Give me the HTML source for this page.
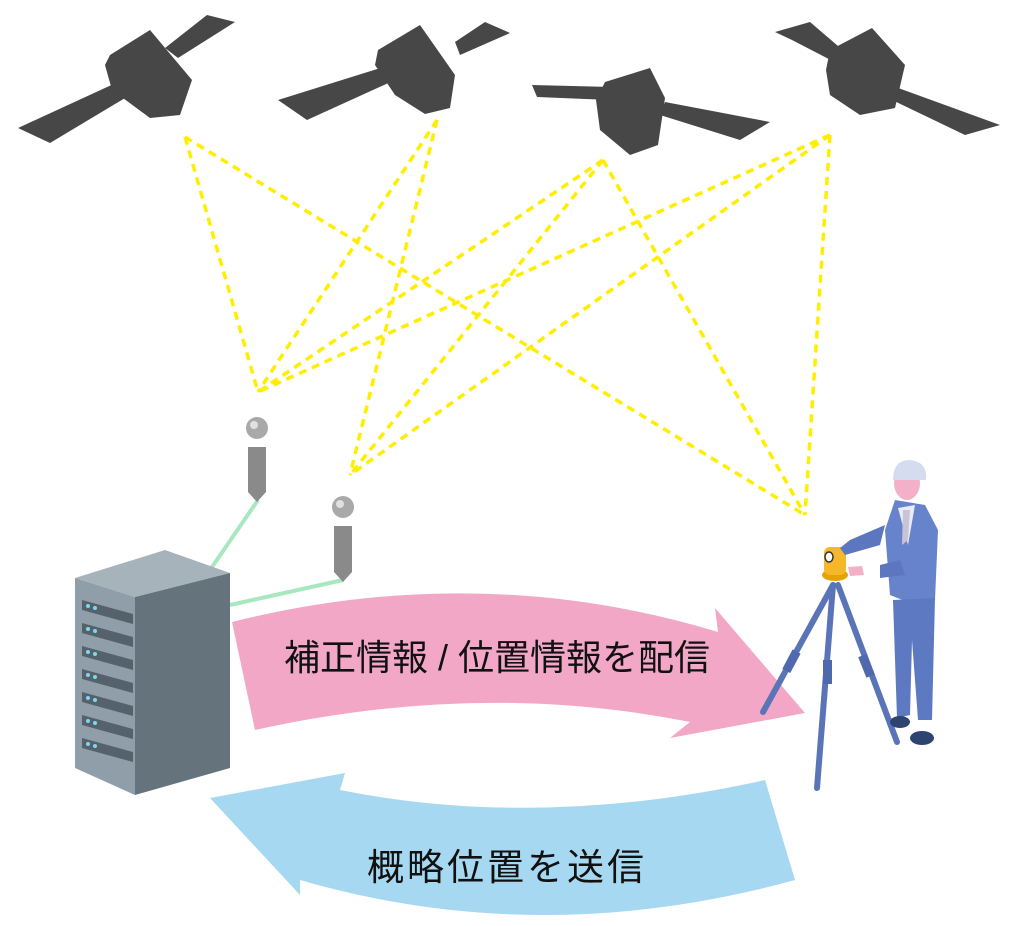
<!DOCTYPE html>
<html><head><meta charset="utf-8"><style>
html,body{margin:0;padding:0;background:#fff;}
svg{display:block;}
text{font-family:"Liberation Sans","Noto Sans CJK JP",sans-serif;}
</style></head><body>
<svg width="1024" height="926" viewBox="0 0 1024 926" xmlns="http://www.w3.org/2000/svg">
<g stroke="#ffee00" stroke-width="3.5" stroke-dasharray="8,6" fill="none">
<line x1="185" y1="137" x2="258" y2="392"/>
<line x1="185" y1="137" x2="805" y2="515"/>
<line x1="437" y1="120" x2="258" y2="392"/>
<line x1="437" y1="120" x2="350" y2="475"/>
<line x1="603" y1="160" x2="258" y2="392"/>
<line x1="603" y1="160" x2="350" y2="475"/>
<line x1="603" y1="160" x2="805" y2="515"/>
<line x1="830" y1="135" x2="258" y2="392"/>
<line x1="830" y1="135" x2="350" y2="475"/>
<line x1="830" y1="135" x2="805" y2="515"/>
</g>
<g fill="#474747">
<polygon points="18,128 50,143 130,95 118,82"/>
<polygon points="165,48 178,58 235,22 207,15"/>
<polygon points="110,55 150,30 192,80 180,115 150,118 112,90 105,65"/>
<polygon points="278,100 307,120 395,80 390,65"/>
<polygon points="455,42 460,55 510,33 485,22"/>
<polygon points="378,50 420,25 455,75 450,108 425,114 395,95 375,65"/>
<polygon points="532,85 537,97 610,100 612,87"/>
<polygon points="665,102 660,115 740,140 770,122"/>
<polygon points="605,82 650,68 665,98 658,145 630,155 600,130 596,100"/>
<polygon points="775,32 792,40 850,70 852,58 810,22"/>
<polygon points="890,85 888,98 965,135 1000,125"/>
<polygon points="830,50 872,28 905,65 895,108 860,115 830,95 826,70"/>
</g>
<g stroke="#a8e8c0" stroke-width="4" fill="none">
<line x1="258" y1="500" x2="210" y2="570"/>
<line x1="343" y1="580" x2="230" y2="605"/>
</g>
<circle cx="257" cy="428" r="11" fill="#a9a9a9"/><circle cx="254" cy="425" r="4" fill="#e0e0e0"/>
<polygon points="248,447 266,447 266,492 257,502 248,492" fill="#8a8a8a"/>
<circle cx="343" cy="507" r="11" fill="#a9a9a9"/><circle cx="340" cy="504" r="4" fill="#e0e0e0"/>
<polygon points="334,526 352,526 352,572 343,582 334,572" fill="#8a8a8a"/>
<polygon points="75,578 165,550 230,573 135,597" fill="#a7b3bb"/>
<polygon points="135,597 230,573 230,768 135,795" fill="#65737c"/>
<polygon points="75,578 135,597 135,795 75,768" fill="#8f9ea8"/>
<g fill="#55626b">
<polygon points="82,600 133,614 133,624 82,610"/>
<polygon points="82,623 133,637 133,647 82,633"/>
<polygon points="82,646 133,660 133,670 82,656"/>
<polygon points="82,669 133,683 133,693 82,679"/>
<polygon points="82,692 133,706 133,716 82,702"/>
<polygon points="82,715 133,729 133,739 82,725"/>
<polygon points="82,738 133,752 133,762 82,748"/>
</g>
<g fill="#7fd6f0">
<circle cx="88" cy="606" r="2"/><circle cx="95" cy="608" r="2"/>
<circle cx="88" cy="629" r="2"/><circle cx="95" cy="631" r="2"/>
<circle cx="88" cy="652" r="2"/><circle cx="95" cy="654" r="2"/>
<circle cx="88" cy="675" r="2"/><circle cx="95" cy="677" r="2"/>
<circle cx="88" cy="698" r="2"/><circle cx="95" cy="700" r="2"/>
<circle cx="88" cy="721" r="2"/><circle cx="95" cy="723" r="2"/>
<circle cx="88" cy="744" r="2"/><circle cx="95" cy="746" r="2"/>
</g>
<path d="M232,622 Q480,560 718,632 L715,608 L805,713 L670,738 L690,722 Q480,680 255,730 Z" fill="#f2a7c6"/>
<text x="497" y="670" font-size="36" text-anchor="middle" fill="#111">補正情報 / 位置情報を配信</text>
<path d="M210,798 L345,773 L340,790 Q540,830 765,780 L795,880 Q540,950 300,880 L300,895 Z" fill="#a6d8f2"/>
<text x="507" y="880" font-size="37" letter-spacing="3" text-anchor="middle" fill="#111">概略位置を送信</text>
<g stroke="#5a74b8" stroke-width="6" stroke-linecap="round" fill="none">
<line x1="833" y1="585" x2="763" y2="712"/>
<line x1="833" y1="585" x2="817" y2="788"/>
<line x1="838" y1="585" x2="897" y2="742"/>
</g>
<g fill="#5069ad">
<rect x="787" y="650" width="9" height="22" transform="rotate(28 791 661)"/>
<rect x="823" y="660" width="9" height="24"/>
<rect x="862" y="655" width="9" height="22" transform="rotate(-22 866 666)"/>
</g>
<ellipse cx="835" cy="575" rx="13" ry="6" fill="#e5a200"/>
<rect x="824" y="547" width="22" height="28" rx="6" fill="#f5b82a"/>
<ellipse cx="829" cy="557" rx="4" ry="5" fill="#fff" stroke="#333" stroke-width="1.5"/>
<polygon points="895,500 925,505 938,530 935,600 915,605 890,595 885,530" fill="#6683cc"/>
<polygon points="898,508 915,505 908,545" fill="#e9ebf5"/>
<polygon points="903,510 910,510 908,540 902,545" fill="#c8c4d6"/>
<polygon points="885,525 850,540 840,548 845,555 880,545" fill="#5c76c0"/>
<polygon points="880,565 900,560 905,575 880,578" fill="#5c76c0"/>
<polygon points="848,567 862,566 864,575 850,576" fill="#f3b0c8"/>
<polygon points="893,600 935,598 932,720 918,720 912,640 910,715 897,718" fill="#5d79c2"/>
<ellipse cx="900" cy="722" rx="10" ry="6" fill="#2e4470"/>
<ellipse cx="922" cy="738" rx="12" ry="7" fill="#2e4470"/>
<ellipse cx="907" cy="483" rx="13" ry="17" fill="#f3b0c8"/>
<path d="M893,480 Q893,460 910,460 Q928,462 926,480 Z" fill="#d5dcef"/>
</svg>
</body></html>
